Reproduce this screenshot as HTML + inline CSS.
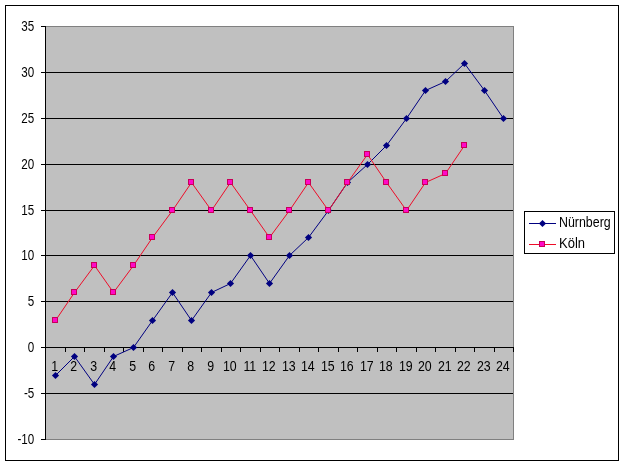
<!DOCTYPE html><html><head><meta charset="utf-8"><title>Chart</title><style>html,body{margin:0;padding:0;background:#fff}svg{display:block}text{font-family:"Liberation Sans",sans-serif;font-size:12px;fill:#000}</style></head><body>
<svg width="624" height="465" viewBox="0 0 624 465">
<rect x="0" y="0" width="624" height="465" fill="#fff"/>
<rect x="5.5" y="5.5" width="613" height="455" fill="#fff" stroke="#000" stroke-width="1"/>
<rect x="45.5" y="26.5" width="468" height="413" fill="#c0c0c0" stroke="#808080" stroke-width="1"/>
<line x1="41" y1="439.5" x2="46" y2="439.5" stroke="#000" stroke-width="1"/>
<text transform="translate(34.3 444.0) scale(0.97 1.17)" text-anchor="end">-10</text>
<line x1="46" y1="393.5" x2="513" y2="393.5" stroke="#000" stroke-width="1"/>
<line x1="41" y1="393.5" x2="46" y2="393.5" stroke="#000" stroke-width="1"/>
<text transform="translate(34.3 398.0) scale(0.97 1.17)" text-anchor="end">-5</text>
<line x1="46" y1="347.5" x2="513" y2="347.5" stroke="#000" stroke-width="1"/>
<line x1="41" y1="347.5" x2="46" y2="347.5" stroke="#000" stroke-width="1"/>
<text transform="translate(34.3 352.0) scale(0.97 1.17)" text-anchor="end">0</text>
<line x1="46" y1="301.5" x2="513" y2="301.5" stroke="#000" stroke-width="1"/>
<line x1="41" y1="301.5" x2="46" y2="301.5" stroke="#000" stroke-width="1"/>
<text transform="translate(34.3 306.0) scale(0.97 1.17)" text-anchor="end">5</text>
<line x1="46" y1="255.5" x2="513" y2="255.5" stroke="#000" stroke-width="1"/>
<line x1="41" y1="255.5" x2="46" y2="255.5" stroke="#000" stroke-width="1"/>
<text transform="translate(34.3 260.0) scale(0.97 1.17)" text-anchor="end">10</text>
<line x1="46" y1="210.5" x2="513" y2="210.5" stroke="#000" stroke-width="1"/>
<line x1="41" y1="210.5" x2="46" y2="210.5" stroke="#000" stroke-width="1"/>
<text transform="translate(34.3 215.0) scale(0.97 1.17)" text-anchor="end">15</text>
<line x1="46" y1="164.5" x2="513" y2="164.5" stroke="#000" stroke-width="1"/>
<line x1="41" y1="164.5" x2="46" y2="164.5" stroke="#000" stroke-width="1"/>
<text transform="translate(34.3 169.0) scale(0.97 1.17)" text-anchor="end">20</text>
<line x1="46" y1="118.5" x2="513" y2="118.5" stroke="#000" stroke-width="1"/>
<line x1="41" y1="118.5" x2="46" y2="118.5" stroke="#000" stroke-width="1"/>
<text transform="translate(34.3 123.0) scale(0.97 1.17)" text-anchor="end">25</text>
<line x1="46" y1="72.5" x2="513" y2="72.5" stroke="#000" stroke-width="1"/>
<line x1="41" y1="72.5" x2="46" y2="72.5" stroke="#000" stroke-width="1"/>
<text transform="translate(34.3 77.0) scale(0.97 1.17)" text-anchor="end">30</text>
<line x1="41" y1="26.5" x2="46" y2="26.5" stroke="#000" stroke-width="1"/>
<text transform="translate(34.3 31.0) scale(0.97 1.17)" text-anchor="end">35</text>
<line x1="45.5" y1="26" x2="45.5" y2="440" stroke="#000" stroke-width="1"/>
<line x1="45.5" y1="347" x2="45.5" y2="352" stroke="#000" stroke-width="1"/>
<line x1="65.5" y1="347" x2="65.5" y2="352" stroke="#000" stroke-width="1"/>
<line x1="84.5" y1="347" x2="84.5" y2="352" stroke="#000" stroke-width="1"/>
<line x1="104.5" y1="347" x2="104.5" y2="352" stroke="#000" stroke-width="1"/>
<line x1="123.5" y1="347" x2="123.5" y2="352" stroke="#000" stroke-width="1"/>
<line x1="143.5" y1="347" x2="143.5" y2="352" stroke="#000" stroke-width="1"/>
<line x1="162.5" y1="347" x2="162.5" y2="352" stroke="#000" stroke-width="1"/>
<line x1="182.5" y1="347" x2="182.5" y2="352" stroke="#000" stroke-width="1"/>
<line x1="201.5" y1="347" x2="201.5" y2="352" stroke="#000" stroke-width="1"/>
<line x1="221.5" y1="347" x2="221.5" y2="352" stroke="#000" stroke-width="1"/>
<line x1="240.5" y1="347" x2="240.5" y2="352" stroke="#000" stroke-width="1"/>
<line x1="260.5" y1="347" x2="260.5" y2="352" stroke="#000" stroke-width="1"/>
<line x1="279.5" y1="347" x2="279.5" y2="352" stroke="#000" stroke-width="1"/>
<line x1="299.5" y1="347" x2="299.5" y2="352" stroke="#000" stroke-width="1"/>
<line x1="318.5" y1="347" x2="318.5" y2="352" stroke="#000" stroke-width="1"/>
<line x1="338.5" y1="347" x2="338.5" y2="352" stroke="#000" stroke-width="1"/>
<line x1="357.5" y1="347" x2="357.5" y2="352" stroke="#000" stroke-width="1"/>
<line x1="377.5" y1="347" x2="377.5" y2="352" stroke="#000" stroke-width="1"/>
<line x1="396.5" y1="347" x2="396.5" y2="352" stroke="#000" stroke-width="1"/>
<line x1="416.5" y1="347" x2="416.5" y2="352" stroke="#000" stroke-width="1"/>
<line x1="435.5" y1="347" x2="435.5" y2="352" stroke="#000" stroke-width="1"/>
<line x1="455.5" y1="347" x2="455.5" y2="352" stroke="#000" stroke-width="1"/>
<line x1="474.5" y1="347" x2="474.5" y2="352" stroke="#000" stroke-width="1"/>
<line x1="494.5" y1="347" x2="494.5" y2="352" stroke="#000" stroke-width="1"/>
<line x1="513.5" y1="347" x2="513.5" y2="352" stroke="#000" stroke-width="1"/>
<text transform="translate(54.80 371) scale(1.03 1.17)" text-anchor="middle">1</text>
<text transform="translate(73.80 371) scale(1.03 1.17)" text-anchor="middle">2</text>
<text transform="translate(93.80 371) scale(1.03 1.17)" text-anchor="middle">3</text>
<text transform="translate(112.80 371) scale(1.03 1.17)" text-anchor="middle">4</text>
<text transform="translate(132.80 371) scale(1.03 1.17)" text-anchor="middle">5</text>
<text transform="translate(151.80 371) scale(1.03 1.17)" text-anchor="middle">6</text>
<text transform="translate(171.80 371) scale(1.03 1.17)" text-anchor="middle">7</text>
<text transform="translate(190.80 371) scale(1.03 1.17)" text-anchor="middle">8</text>
<text transform="translate(210.80 371) scale(1.03 1.17)" text-anchor="middle">9</text>
<text transform="translate(229.80 371) scale(1.03 1.17)" text-anchor="middle">10</text>
<text transform="translate(249.80 371) scale(1.03 1.17)" text-anchor="middle">11</text>
<text transform="translate(268.80 371) scale(1.03 1.17)" text-anchor="middle">12</text>
<text transform="translate(288.80 371) scale(1.03 1.17)" text-anchor="middle">13</text>
<text transform="translate(307.80 371) scale(1.03 1.17)" text-anchor="middle">14</text>
<text transform="translate(327.80 371) scale(1.03 1.17)" text-anchor="middle">15</text>
<text transform="translate(346.80 371) scale(1.03 1.17)" text-anchor="middle">16</text>
<text transform="translate(366.80 371) scale(1.03 1.17)" text-anchor="middle">17</text>
<text transform="translate(385.80 371) scale(1.03 1.17)" text-anchor="middle">18</text>
<text transform="translate(405.80 371) scale(1.03 1.17)" text-anchor="middle">19</text>
<text transform="translate(424.80 371) scale(1.03 1.17)" text-anchor="middle">20</text>
<text transform="translate(444.80 371) scale(1.03 1.17)" text-anchor="middle">21</text>
<text transform="translate(463.80 371) scale(1.03 1.17)" text-anchor="middle">22</text>
<text transform="translate(483.80 371) scale(1.03 1.17)" text-anchor="middle">23</text>
<text transform="translate(502.80 371) scale(1.03 1.17)" text-anchor="middle">24</text>
<polyline points="55.50,375.50 74.50,356.50 94.50,384.50 113.50,356.50 133.50,347.50 152.50,320.50 172.50,292.50 191.50,320.50 211.50,292.50 230.50,283.50 250.50,255.50 269.50,283.50 289.50,255.50 308.50,237.50 328.50,210.50 347.50,182.50 367.50,164.50 386.50,145.50 406.50,118.50 425.50,90.50 445.50,81.50 464.50,63.50 484.50,90.50 503.50,118.50" fill="none" stroke="#000080" stroke-width="1"/>
<path d="M55.50 371.90L59.10 375.50L55.50 379.10L51.90 375.50Z" fill="#000080"/>
<path d="M74.50 352.90L78.10 356.50L74.50 360.10L70.90 356.50Z" fill="#000080"/>
<path d="M94.50 380.90L98.10 384.50L94.50 388.10L90.90 384.50Z" fill="#000080"/>
<path d="M113.50 352.90L117.10 356.50L113.50 360.10L109.90 356.50Z" fill="#000080"/>
<path d="M133.50 343.90L137.10 347.50L133.50 351.10L129.90 347.50Z" fill="#000080"/>
<path d="M152.50 316.90L156.10 320.50L152.50 324.10L148.90 320.50Z" fill="#000080"/>
<path d="M172.50 288.90L176.10 292.50L172.50 296.10L168.90 292.50Z" fill="#000080"/>
<path d="M191.50 316.90L195.10 320.50L191.50 324.10L187.90 320.50Z" fill="#000080"/>
<path d="M211.50 288.90L215.10 292.50L211.50 296.10L207.90 292.50Z" fill="#000080"/>
<path d="M230.50 279.90L234.10 283.50L230.50 287.10L226.90 283.50Z" fill="#000080"/>
<path d="M250.50 251.90L254.10 255.50L250.50 259.10L246.90 255.50Z" fill="#000080"/>
<path d="M269.50 279.90L273.10 283.50L269.50 287.10L265.90 283.50Z" fill="#000080"/>
<path d="M289.50 251.90L293.10 255.50L289.50 259.10L285.90 255.50Z" fill="#000080"/>
<path d="M308.50 233.90L312.10 237.50L308.50 241.10L304.90 237.50Z" fill="#000080"/>
<path d="M328.50 206.90L332.10 210.50L328.50 214.10L324.90 210.50Z" fill="#000080"/>
<path d="M347.50 178.90L351.10 182.50L347.50 186.10L343.90 182.50Z" fill="#000080"/>
<path d="M367.50 160.90L371.10 164.50L367.50 168.10L363.90 164.50Z" fill="#000080"/>
<path d="M386.50 141.90L390.10 145.50L386.50 149.10L382.90 145.50Z" fill="#000080"/>
<path d="M406.50 114.90L410.10 118.50L406.50 122.10L402.90 118.50Z" fill="#000080"/>
<path d="M425.50 86.90L429.10 90.50L425.50 94.10L421.90 90.50Z" fill="#000080"/>
<path d="M445.50 77.90L449.10 81.50L445.50 85.10L441.90 81.50Z" fill="#000080"/>
<path d="M464.50 59.90L468.10 63.50L464.50 67.10L460.90 63.50Z" fill="#000080"/>
<path d="M484.50 86.90L488.10 90.50L484.50 94.10L480.90 90.50Z" fill="#000080"/>
<path d="M503.50 114.90L507.10 118.50L503.50 122.10L499.90 118.50Z" fill="#000080"/>
<polyline points="55.50,320.50 74.50,292.50 94.50,265.50 113.50,292.50 133.50,265.50 152.50,237.50 172.50,210.50 191.50,182.50 211.50,210.50 230.50,182.50 250.50,210.50 269.50,237.50 289.50,210.50 308.50,182.50 328.50,210.50 347.50,182.50 367.50,154.50 386.50,182.50 406.50,210.50 425.50,182.50 445.50,173.50 464.50,145.50" fill="none" stroke="#ee0c28" stroke-width="1"/>
<rect x="52.50" y="317.50" width="5" height="5" fill="#ff08c8" stroke="#c80058" stroke-width="1"/>
<rect x="71.50" y="289.50" width="5" height="5" fill="#ff08c8" stroke="#c80058" stroke-width="1"/>
<rect x="91.50" y="262.50" width="5" height="5" fill="#ff08c8" stroke="#c80058" stroke-width="1"/>
<rect x="110.50" y="289.50" width="5" height="5" fill="#ff08c8" stroke="#c80058" stroke-width="1"/>
<rect x="130.50" y="262.50" width="5" height="5" fill="#ff08c8" stroke="#c80058" stroke-width="1"/>
<rect x="149.50" y="234.50" width="5" height="5" fill="#ff08c8" stroke="#c80058" stroke-width="1"/>
<rect x="169.50" y="207.50" width="5" height="5" fill="#ff08c8" stroke="#c80058" stroke-width="1"/>
<rect x="188.50" y="179.50" width="5" height="5" fill="#ff08c8" stroke="#c80058" stroke-width="1"/>
<rect x="208.50" y="207.50" width="5" height="5" fill="#ff08c8" stroke="#c80058" stroke-width="1"/>
<rect x="227.50" y="179.50" width="5" height="5" fill="#ff08c8" stroke="#c80058" stroke-width="1"/>
<rect x="247.50" y="207.50" width="5" height="5" fill="#ff08c8" stroke="#c80058" stroke-width="1"/>
<rect x="266.50" y="234.50" width="5" height="5" fill="#ff08c8" stroke="#c80058" stroke-width="1"/>
<rect x="286.50" y="207.50" width="5" height="5" fill="#ff08c8" stroke="#c80058" stroke-width="1"/>
<rect x="305.50" y="179.50" width="5" height="5" fill="#ff08c8" stroke="#c80058" stroke-width="1"/>
<rect x="325.50" y="207.50" width="5" height="5" fill="#ff08c8" stroke="#c80058" stroke-width="1"/>
<rect x="344.50" y="179.50" width="5" height="5" fill="#ff08c8" stroke="#c80058" stroke-width="1"/>
<rect x="364.50" y="151.50" width="5" height="5" fill="#ff08c8" stroke="#c80058" stroke-width="1"/>
<rect x="383.50" y="179.50" width="5" height="5" fill="#ff08c8" stroke="#c80058" stroke-width="1"/>
<rect x="403.50" y="207.50" width="5" height="5" fill="#ff08c8" stroke="#c80058" stroke-width="1"/>
<rect x="422.50" y="179.50" width="5" height="5" fill="#ff08c8" stroke="#c80058" stroke-width="1"/>
<rect x="442.50" y="170.50" width="5" height="5" fill="#ff08c8" stroke="#c80058" stroke-width="1"/>
<rect x="461.50" y="142.50" width="5" height="5" fill="#ff08c8" stroke="#c80058" stroke-width="1"/>
<rect x="524.5" y="211.5" width="90" height="42" fill="#fff" stroke="#000" stroke-width="1"/>
<line x1="529" y1="223.5" x2="556" y2="223.5" stroke="#000080" stroke-width="1"/>
<path d="M542.5 219.9L546.1 223.5L542.5 227.1L538.9 223.5Z" fill="#000080"/>
<text transform="translate(559 227) scale(1 1.17)" textLength="51.7" lengthAdjust="spacingAndGlyphs">Nürnberg</text>
<line x1="529" y1="244.5" x2="556" y2="244.5" stroke="#ee0c28" stroke-width="1"/>
<rect x="539.5" y="241.5" width="5" height="5" fill="#ff08c8" stroke="#c80058" stroke-width="1"/>
<text transform="translate(559 248) scale(1 1.17)" textLength="26" lengthAdjust="spacingAndGlyphs">Köln</text>
</svg></body></html>
